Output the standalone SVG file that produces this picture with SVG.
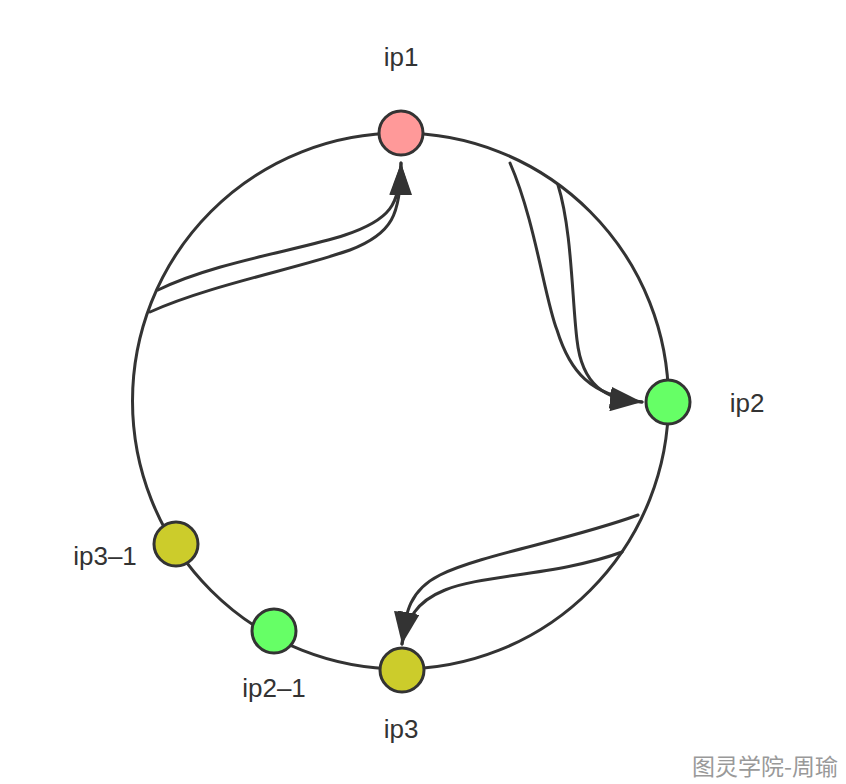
<svg xmlns="http://www.w3.org/2000/svg" width="846" height="784" viewBox="0 0 846 784">
  <style>
    .ring { fill: none; stroke: #333333; stroke-width: 3; }
    .edge { fill: none; stroke: #333333; stroke-width: 3; stroke-linecap: round; }
    .node { stroke: #333333; stroke-width: 3; }
    .red { fill: #FF9999; }
    .green { fill: #66FF66; }
    .yellow { fill: #CCCC2B; }
    .label { font-family: "Liberation Sans", Arial, sans-serif; font-size: 26px; fill: #333333; }
    .mark { font-family: "Noto Sans CJK SC", "Liberation Sans", sans-serif; font-size: 23px; fill: #999999; }
  </style>
  <defs>
    <marker id="arrow" markerUnits="userSpaceOnUse" viewBox="0 0 32 22" markerWidth="32" markerHeight="22" refX="32" refY="11" orient="auto">
      <path d="M0,0 L32,11 L0,22 z" fill="#333333"/>
    </marker>
  </defs>
  <rect width="846" height="784" fill="#FFFFFF"/>
  <circle class="ring" cx="400.5" cy="401" r="268"/>
  <g id="connectors">
    <path class="edge" d="M158,290 C215,262 300,250 345,235 C390,220 400,205 401,163" marker-end="url(#arrow)"/>
    <path class="edge" d="M150,312 C210,285 300,268 350,250 C392,234 401,215 401,163" marker-end="url(#arrow)"/>
    <path class="edge" d="M510,163 C535,220 545,300 557,330 C570,372 590,395 642,402" marker-end="url(#arrow)"/>
    <path class="edge" d="M558,185 C572,230 572,300 577,340 C582,385 605,400 642,402" marker-end="url(#arrow)"/>
    <path class="edge" d="M638,515 C570,540 480,555 440,575 C410,590 405,612 402,644" marker-end="url(#arrow)"/>
    <path class="edge" d="M622,552 C560,575 480,575 445,590 C415,602 407,620 402,644" marker-end="url(#arrow)"/>
  </g>
  <g id="ip1">
    <circle class="node red" cx="401" cy="133" r="22"/>
    <text class="label" x="401" y="66" text-anchor="middle">ip1</text>
  </g>
  <g id="ip2">
    <circle class="node green" cx="668" cy="402" r="22"/>
    <text class="label" x="747" y="412" text-anchor="middle">ip2</text>
  </g>
  <g id="ip3">
    <circle class="node yellow" cx="402" cy="670" r="22"/>
    <text class="label" x="401" y="738" text-anchor="middle">ip3</text>
  </g>
  <g id="ip3-1">
    <circle class="node yellow" cx="176" cy="544" r="22"/>
    <text class="label" x="105" y="565" text-anchor="middle">ip3–1</text>
  </g>
  <g id="ip2-1">
    <circle class="node green" cx="274" cy="631" r="22"/>
    <text class="label" x="274" y="697" text-anchor="middle">ip2–1</text>
  </g>
  <text class="mark" x="838" y="775" text-anchor="end">图灵学院-周瑜</text>
</svg>
